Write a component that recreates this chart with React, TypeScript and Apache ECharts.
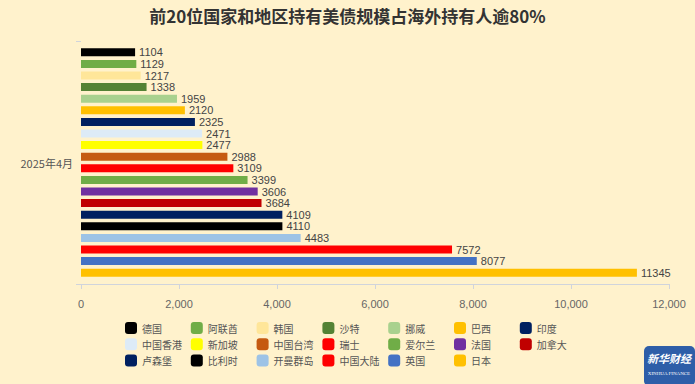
import React, { useEffect, useRef } from "react";
import * as echarts from "echarts";

const categories = ["2025年4月"];
const countries = [
  "德国", "阿联酋", "韩国", "沙特", "挪威", "巴西", "印度",
  "中国香港", "新加坡", "中国台湾", "瑞士", "爱尔兰", "法国", "加拿大",
  "卢森堡", "比利时", "开曼群岛", "中国大陆", "英国", "日本",
];
const values = [
  1104, 1129, 1217, 1338, 1959, 2120, 2325,
  2471, 2477, 2988, 3109, 3399, 3606, 3684,
  4109, 4110, 4483, 7572, 8077, 11345,
];
const colors = [
  "#000000", "#70AD47", "#FFE699", "#548235", "#A9D18E", "#FFC000", "#002060",
  "#DDEBF7", "#FFFF00", "#C55A11", "#FF0000", "#70AD47", "#7030A0", "#C00000",
  "#002060", "#000000", "#9DC3E6", "#FF0000", "#4472C4", "#FFC000",
];
const titleText = "前20位国家和地区持有美债规模占海外持有人逾80%";
const legendColumns = 7;

export default function App() {
  const ref = useRef<HTMLDivElement>(null);
  useEffect(() => {
    if (!ref.current) return;
    const chart = echarts.init(ref.current, undefined, { renderer: "svg" });
    const font = '"Noto Sans CJK SC", "Noto Sans", sans-serif';
    const narrow = '"Liberation Sans Narrow", "Liberation Sans", sans-serif';
    const legends = [];
    for (let c = 0; c < legendColumns; c++) {
      const names = countries.filter((_, i) => i % legendColumns === c);
      legends.push({
        data: names,
        orient: "vertical",
        left: 120 + c * 65.8,
        top: 317,
        itemWidth: 12,
        itemHeight: 12,
        itemGap: 4.3,
        icon: "roundRect",
        textStyle: { fontSize: 10, color: "#555", fontFamily: font },
      });
    }
    chart.setOption({
      animation: false,
      backgroundColor: "#FFF2CC",
      textStyle: { fontFamily: font },
      title: {
        text: titleText,
        left: "center",
        top: 2,
        textStyle: { fontSize: 17, fontWeight: "bold", color: "#333", fontFamily: font },
      },
      grid: { left: 81, right: 26, top: 41, bottom: 100, containLabel: false },
      xAxis: {
        type: "value",
        min: 0,
        max: 12000,
        interval: 2000,
        splitLine: { show: false },
        axisLine: { show: true, lineStyle: { color: "#D0D4DC" } },
        axisTick: { show: true, lineStyle: { color: "#D0D4DC" } },
        axisLabel: { color: "#666", fontSize: 11, margin: 14, fontFamily: narrow },
      },
      yAxis: {
        type: "category",
        data: categories,
        inverse: true,
        axisLine: { show: false },
        axisTick: { show: true, lineStyle: { color: "#D0D4DC" } },
        axisLabel: { color: "#555", fontSize: 11, margin: 8 },
      },
      legend: legends,
      series: countries.map((name, i) => ({
        name,
        type: "bar",
        data: [values[i]],
        barWidth: 8,
        barGap: "45%",
        itemStyle: { color: colors[i] },
        label: {
          show: true,
          position: "right",
          distance: 4,
          fontSize: 11,
          color: "#444",
          fontFamily: narrow,
        },
      })),
      graphic: [
        {
          type: "rect",
          shape: { x: 644, y: 346, width: 51, height: 40, r: 5 },
          style: { fill: "#2E5EA8" },
        },
        {
          type: "text",
          x: 669,
          y: 352,
          style: {
            text: "新华财经",
            fill: "#fff",
            fontSize: 11,
            fontWeight: "bold",
            fontStyle: "italic",
            align: "center",
            fontFamily: font,
          },
        },
        {
          type: "text",
          x: 669,
          y: 371,
          style: {
            text: "XINHUA FINANCE",
            fill: "#fff",
            fontSize: 5,
            align: "center",
            fontFamily: "Liberation Serif, serif",
          },
        },
      ],
    });
    return () => chart.dispose();
  }, []);
  return (
    <div
      ref={ref}
      style={{ position: "fixed", left: 0, top: 0, width: 695, height: 384 }}
    />
  );
}
